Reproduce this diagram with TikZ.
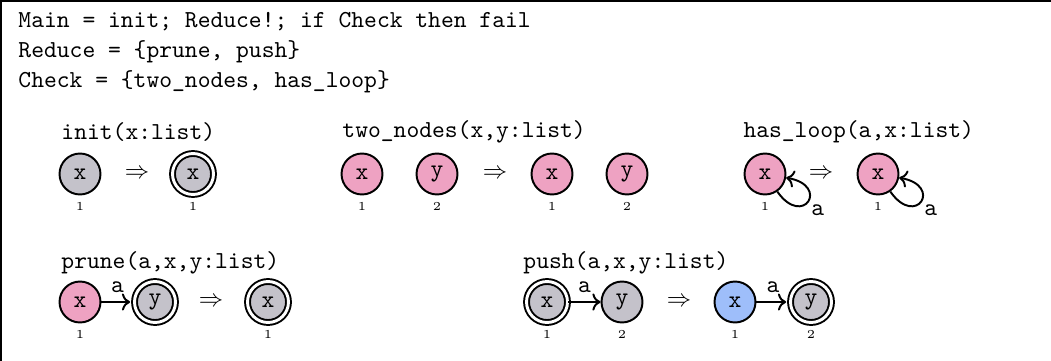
\documentclass[tikz,border=0pt]{standalone}
\usepackage{amssymb}
\usetikzlibrary{arrows.meta}
\definecolor{nodegrey}{RGB}{196,194,202}
\definecolor{nodepink}{RGB}{238,162,194}
\definecolor{nodeblue}{RGB}{158,190,250}

\begin{document}
\begin{tikzpicture}[x=0.41pt, y=-0.41pt,
    gnode/.style={circle, draw, line width=0.8pt, minimum size=16.8pt, inner sep=0pt, font=\ttfamily},
    grey/.style={gnode, fill=nodegrey},
    pink/.style={gnode, fill=nodepink},
    blue/.style={gnode, fill=nodeblue},
    root/.style={double, double distance=1.2pt},
    title/.style={anchor=west, inner sep=0pt, font=\ttfamily},
    every label/.style={font=\tiny, inner sep=0pt},
    label distance=2.6pt,
    elabel/.style={font=\ttfamily}]
    \useasboundingbox (0,0) rectangle (1051,360);
    \clip (0,0) rectangle (1051,360);
    \draw[line width=0.5pt] (1,1) rectangle (1070,380);

    \node[title] (main) at (18,22) {Main = init; Reduce!; if Check then fail};
    \node[title] (reduce) at (18,52) {Reduce = \{prune, push\}};
    \node[title] (check) at (18,82) {Check = \{two\_nodes, has\_loop\}};

    % init
    \node[title] (tinit) at (61,132) {init(x:list)};
    \node[grey, label=below:1] (i1) at (80,174) {x};
    \node (ia) at (137,174) {$\Rightarrow$};
    \node[grey, root, label=below:1] (i2) at (193,174) {x};

    % two_nodes
    \node[title] (ttwo) at (342,132) {two\_nodes(x,y:list)};
    \node[pink, label=below:1] (n1) at (362,174) {x};
    \node[pink, label=below:2] (n2) at (437,174) {y};
    \node (na) at (495,174) {$\Rightarrow$};
    \node[pink, label=below:1] (n3) at (552,174) {x};
    \node[pink, label=below:2] (n4) at (627,174) {y};

    % has_loop
    \node[title] (tloop) at (743,132) {has\_loop(a,x:list)};
    \node[pink, label=below:1] (h1) at (765,174) {x};
    \node (ha) at (821,174) {$\Rightarrow$};
    \node[pink, label=below:1] (h2) at (878,174) {x};

    % prune
    \node[title] (tprune) at (61,263) {prune(a,x,y:list)};
    \node[pink, label=below:1] (p1) at (80,302) {x};
    \node[grey, root] (p2) at (155,302) {y};
    \node (pa) at (211,302) {$\Rightarrow$};
    \node[grey, root, label=below:1] (p3) at (268,302) {x};

    % push
    \node[title] (tpush) at (523,263) {push(a,x,y:list)};
    \node[grey, root, label=below:1] (u1) at (547,302) {x};
    \node[grey, label=below:2] (u2) at (622,302) {y};
    \node (ua) at (679,302) {$\Rightarrow$};
    \node[blue, label=below:1] (u3) at (735,302) {x};
    \node[grey, root, label=below:2] (u4) at (811,302) {y};

    \path[->, line width=0.8pt]
    (p1) edge[shorten >=1.4pt] node[above, elabel] {a} (p2)
    (u1) edge node[above, elabel] {a} (u2)
    (u3) edge[shorten >=1.4pt] node[above, elabel] {a} (u4)
    (h1) edge[loop, out=-55, in=-10, min distance=9pt, looseness=7] node[pos=0.5, anchor=north west, inner sep=1pt, elabel] {a} (h1)
    (h2) edge[loop, out=-55, in=-10, min distance=9pt, looseness=7] node[pos=0.5, anchor=north west, inner sep=1pt, elabel] {a} (h2);
  \end{tikzpicture}
\end{document}
